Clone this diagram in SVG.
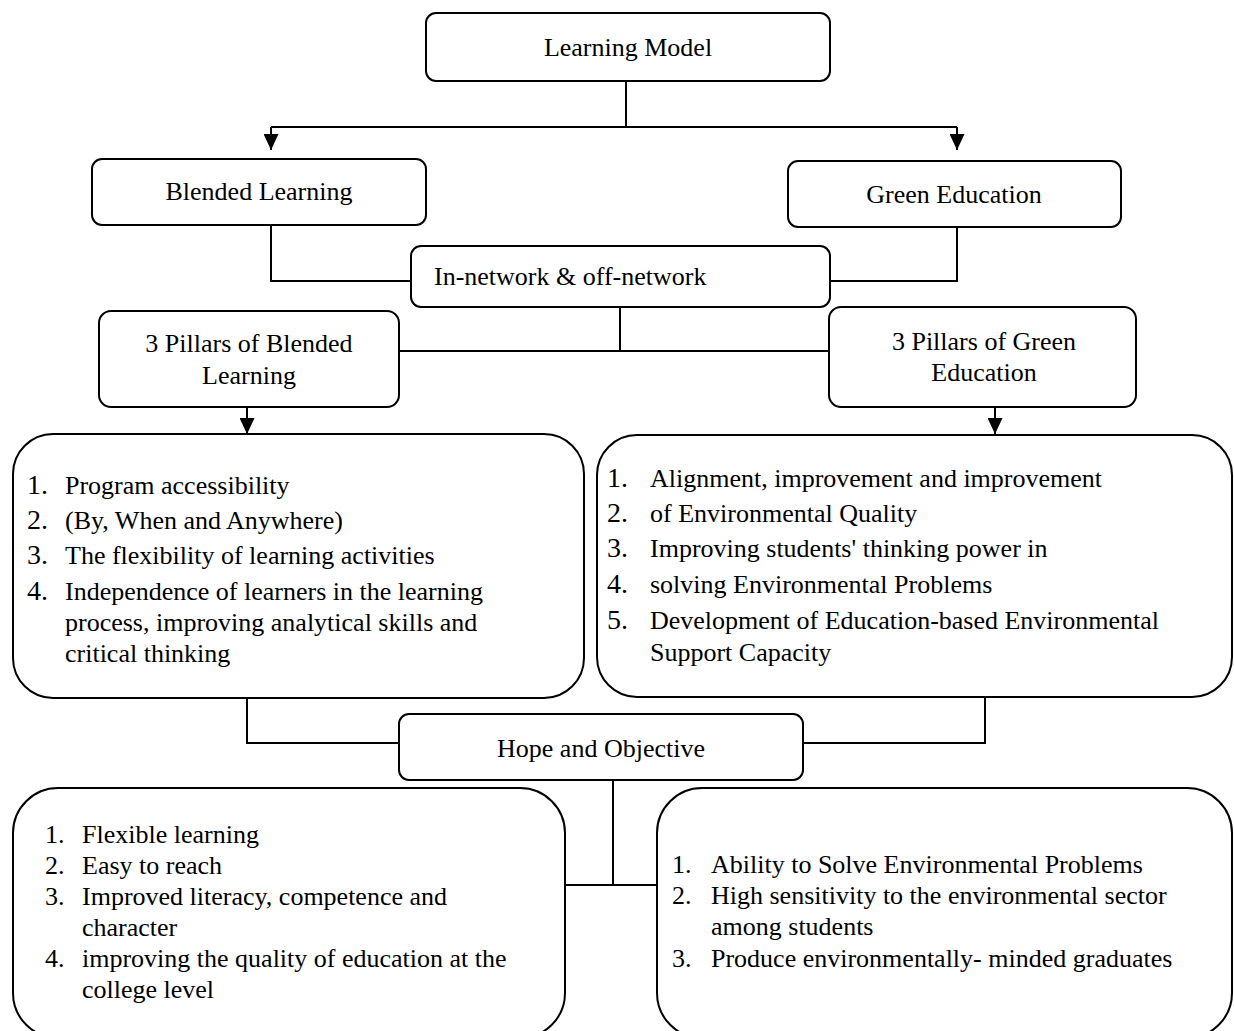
<svg xmlns="http://www.w3.org/2000/svg" width="1234" height="1031" viewBox="0 0 1234 1031">
<style>
  .box{fill:#fff;stroke:#000;stroke-width:2}
  .con{fill:none;stroke:#000;stroke-width:2}
  text{font-family:"Liberation Serif","Times New Roman",serif;font-size:26px;fill:#000}
  .c{text-anchor:middle}
  .num{font-size:28px}
</style>
<defs>
  <marker id="arr" viewBox="0 0 16 15" refX="16" refY="7.5" markerWidth="16" markerHeight="15" markerUnits="userSpaceOnUse" orient="auto">
    <path d="M0,0 L16,7.5 L0,15 z" fill="#000"/>
  </marker>
</defs>
<rect width="1234" height="1031" fill="#fff"/>
<g id="connectors">
  <path class="con" d="M626,81 V127 M271,127 H957"/>
  <path class="con" d="M271,127 V150" marker-end="url(#arr)"/>
  <path class="con" d="M957,127 V150" marker-end="url(#arr)"/>
  <path class="con" d="M271,225 V281 H411 M957,227 V281 H830"/>
  <path class="con" d="M620,307 V351 M399,351 H829"/>
  <path class="con" d="M247,407 V434" marker-end="url(#arr)"/>
  <path class="con" d="M995,407 V434" marker-end="url(#arr)"/>
  <path class="con" d="M247,698 V743 H399 M985,697 V743 H803"/>
  <path class="con" d="M613,780 V885 M565,885 H657"/>
</g>
<g id="learning-model">
  <rect class="box" x="426" y="13" width="404" height="68" rx="10"/>
  <text class="c" x="628" y="56">Learning Model</text>
</g>
<g id="blended-learning">
  <rect class="box" x="92" y="159" width="334" height="66" rx="10"/>
  <text class="c" x="259" y="200">Blended Learning</text>
</g>
<g id="green-education">
  <rect class="box" x="788" y="161" width="333" height="66" rx="10"/>
  <text class="c" x="954" y="203">Green Education</text>
</g>
<g id="in-network">
  <rect class="box" x="411" y="246" width="419" height="61" rx="10"/>
  <text x="434" y="285">In-network &amp; off-network</text>
</g>
<g id="pillars-blended">
  <rect class="box" x="99" y="311" width="300" height="96" rx="12"/>
  <text class="c" x="249" y="352">3 Pillars of Blended</text>
  <text class="c" x="249" y="384">Learning</text>
</g>
<g id="pillars-green">
  <rect class="box" x="829" y="307" width="307" height="100" rx="12"/>
  <text class="c" x="984" y="350">3 Pillars of Green</text>
  <text class="c" x="984" y="381">Education</text>
</g>
<g id="blended-list">
  <rect class="box" x="13" y="434" width="571" height="264" rx="40"/>
  <text class="num" x="27" y="494">1.</text><text x="65" y="494">Program accessibility</text>
  <text class="num" x="27" y="529">2.</text><text x="65" y="529">(By, When and Anywhere)</text>
  <text class="num" x="27" y="564">3.</text><text x="65" y="564">The flexibility of learning activities</text>
  <text class="num" x="27" y="600">4.</text><text x="65" y="600">Independence of learners in the learning</text>
  <text x="65" y="631">process, improving analytical skills and</text>
  <text x="65" y="662">critical thinking</text>
</g>
<g id="green-list">
  <rect class="box" x="597" y="435" width="635" height="262" rx="40"/>
  <text class="num" x="607" y="487">1.</text><text x="650" y="487">Alignment, improvement and improvement</text>
  <text class="num" x="607" y="522">2.</text><text x="650" y="522">of Environmental Quality</text>
  <text class="num" x="607" y="557">3.</text><text x="650" y="557">Improving students' thinking power in</text>
  <text class="num" x="607" y="593">4.</text><text x="650" y="593">solving Environmental Problems</text>
  <text class="num" x="607" y="629">5.</text><text x="650" y="629">Development of Education-based Environmental</text>
  <text x="650" y="661">Support Capacity</text>
</g>
<g id="hope-objective">
  <rect class="box" x="399" y="714" width="404" height="66" rx="10"/>
  <text class="c" x="601" y="757">Hope and Objective</text>
</g>
<g id="blended-outcomes">
  <rect class="box" x="13" y="788" width="552" height="250" rx="45"/>
  <text x="45" y="843">1.</text><text x="82" y="843">Flexible learning</text>
  <text x="45" y="874">2.</text><text x="82" y="874">Easy to reach</text>
  <text x="45" y="905">3.</text><text x="82" y="905">Improved literacy, competence and</text>
  <text x="82" y="936">character</text>
  <text x="45" y="967">4.</text><text x="82" y="967">improving the quality of education at the</text>
  <text x="82" y="998">college level</text>
</g>
<g id="green-outcomes">
  <rect class="box" x="657" y="788" width="575" height="250" rx="45"/>
  <text x="672" y="873">1.</text><text x="711" y="873">Ability to Solve Environmental Problems</text>
  <text x="672" y="904">2.</text><text x="711" y="904">High sensitivity to the environmental sector</text>
  <text x="711" y="935">among students</text>
  <text x="672" y="967">3.</text><text x="711" y="967">Produce environmentally- minded graduates</text>
</g>
</svg>
